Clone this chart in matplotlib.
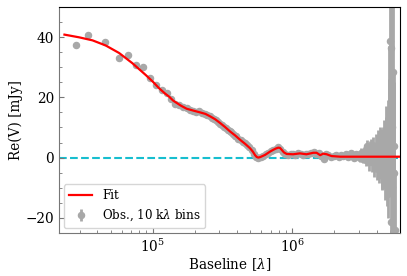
import matplotlib
matplotlib.use("Agg")
import matplotlib.pyplot as plt
from matplotlib.ticker import MultipleLocator

# ---- data ----
# Fit curve: baseline [lambda], Re(V) [mJy]
fit_b = [2.33e4, 2.97e4, 3.7e4, 4.6e4, 5.74e4, 7.15e4, 8.9e4, 1.0e5, 1.11e5, 1.22e5, 1.31e5,
         1.4e5, 1.58e5, 1.75e5, 1.95e5, 2.18e5, 2.38e5, 2.57e5, 2.8e5, 3.03e5, 3.3e5, 3.57e5,
         3.9e5, 4.22e5, 4.6e5, 4.97e5, 5.2e5, 5.4e5, 5.55e5, 5.7e5, 5.9e5, 6.37e5, 6.92e5,
         7.3e5, 7.6e5, 7.92e5, 8.15e5, 8.37e5, 8.7e5, 9.1e5, 1.01e6,
         1.13e6, 1.26e6, 1.41e6, 1.49e6, 1.58e6, 1.66e6, 1.76e6, 1.83e6, 1.91e6, 2.2e6,
         3.0e6, 4.0e6, 5.0e6, 6.0e6]
fit_v = [40.8, 39.9, 38.9, 37.2, 34.7, 31.3, 27.4, 25.2, 23.0, 21.3, 20.2,
         18.9, 17.3, 16.2, 15.6, 15.0, 14.5, 13.7, 12.7, 11.5, 10.1, 8.7,
         7.3, 5.9, 4.5, 3.1, 2.0, 0.8, 0.2, 0.0, 0.2, 0.9, 2.0,
         2.6, 3.0, 3.3, 3.2, 2.6, 1.7, 1.2, 1.1,
         1.4, 1.1, 1.6, 1.6, 0.8, 1.3, 1.1, 0.8, 0.5, 0.3,
         0.3, 0.3, 0.3, 0.3]

# Observations, 10 k-lambda bins: baseline, value, error
obs_b = [2.81e4, 3.46e4, 4.56e4, 5.74e4, 6.65e4, 7.6e4, 8.5e4, 9.6e4, 1.06e5, 1.16e5,
         1.26e5, 1.35e5, 1.45e5,
         1.55e5, 1.65e5, 1.75e5, 1.85e5, 1.95e5, 2.05e5, 2.15e5, 2.25e5, 2.35e5, 2.45e5,
         2.55e5, 2.65e5, 2.75e5, 2.85e5, 2.95e5, 3.05e5, 3.15e5, 3.25e5, 3.35e5, 3.45e5,
         3.55e5, 3.65e5, 3.75e5, 3.85e5, 3.95e5, 4.1e5, 4.25e5, 4.4e5, 4.55e5, 4.7e5,
         4.9e5, 5.1e5, 5.3e5, 5.5e5, 5.7e5, 5.95e5, 6.2e5, 6.45e5, 6.7e5, 7.0e5,
         7.3e5, 7.6e5, 7.9e5, 8.2e5, 8.55e5, 8.9e5, 9.3e5, 9.7e5, 1.01e6, 1.05e6,
         1.1e6, 1.15e6, 1.2e6, 1.25e6, 1.3e6, 1.36e6, 1.42e6, 1.48e6, 1.54e6, 1.6e6,
         1.67e6, 1.74e6, 1.81e6, 1.89e6, 1.97e6, 2.05e6, 2.14e6, 2.23e6, 2.32e6, 2.42e6,
         2.52e6, 2.63e6, 2.74e6, 2.85e6, 2.92e6,
         3.00e6, 3.05e6, 3.10e6, 3.15e6, 3.20e6, 3.25e6, 3.30e6, 3.35e6, 3.40e6, 3.45e6,
         3.50e6, 3.55e6, 3.60e6, 3.65e6, 3.70e6, 3.75e6, 3.80e6, 3.85e6, 3.90e6, 3.95e6,
         4.00e6, 4.05e6, 4.10e6, 4.15e6, 4.20e6, 4.25e6, 4.30e6, 4.35e6, 4.40e6, 4.45e6,
         4.50e6, 4.55e6, 4.60e6, 4.65e6, 4.70e6, 4.75e6, 4.80e6, 4.85e6, 4.90e6,
         4.95e6, 5.0e6, 5.05e6, 5.1e6, 5.15e6, 5.2e6, 5.25e6, 5.3e6, 5.35e6, 5.4e6]
obs_v = [37.2, 40.8, 38.5, 33.0, 34.1, 30.8, 29.9, 26.3, 24.1, 22.4,
         21.3, 19.4, 17.9,
         17.4, 16.9, 16.3, 15.7, 15.6, 15.1, 15.3, 14.8, 14.6, 14.1,
         13.9, 13.3, 12.9, 12.4, 11.9, 11.3, 10.9, 10.3, 9.9, 9.3,
         8.9, 8.4, 7.9, 7.3, 7.0, 6.3, 5.8, 5.2, 4.7, 4.1,
         3.4, 2.6, 1.2, 0.2, -0.1, 0.2, 0.6, 1.1, 1.6, 2.1,
         2.5, 2.9, 3.4, 2.9, 2.0, 1.3, 1.0, 1.2, 1.1, 1.0,
         1.5, 1.3, 1.0, 1.2, 1.1, 1.4, 1.8, 1.3, 1.6, 0.6,
         -0.3, 1.2, 0.9, 0.2, 0.6, 1.0, 0.1, 0.7, 0.4, 1.3,
         0.2, 1.4, 0.0, 1.1, 0.5,
         0.8, -0.2, 1.6, 0.3, -0.3, 1.8, 1.2, -0.8, 3.8, 0.9,
         0.4, -1.5, 1.9, 2.8, -1.0, 1.2, 2.6, -1.8, 0.2, 2.5,
         -2.0, 1.0, 3.2, -0.5, -1.5, 2.8, 2.0, -3.0, -2.5, 1.5,
         3.5, -1.0, -4.0, 2.5, 5.0, -3.0, -6.0, 3.0, 8.0,
         12.0, 38.7, -21.3, 36.5, -9.7, 10.3, 28.3, -5.0, 4.0, -24.0]
obs_e = [0.3, 0.3, 0.3, 0.3, 0.3, 0.3, 0.3, 0.3, 0.3, 0.3,
         0.3, 0.3, 0.3,
         0.3, 0.3, 0.3, 0.3, 0.3, 0.3, 0.3, 0.3, 0.3, 0.3,
         0.3, 0.3, 0.3, 0.3, 0.3, 0.3, 0.3, 0.3, 0.3, 0.3,
         0.3, 0.3, 0.3, 0.3, 0.3, 0.3, 0.3, 0.3, 0.3, 0.3,
         0.3, 0.3, 0.3, 0.3, 0.3, 0.3, 0.3, 0.3, 0.3, 0.3,
         0.3, 0.3, 0.3, 0.3, 0.3, 0.3, 0.4, 0.4, 0.4, 0.4,
         0.4, 0.4, 0.4, 0.4, 0.4, 0.5, 0.5, 0.5, 0.5, 0.5,
         0.5, 0.5, 0.6, 0.6, 0.6, 0.6, 0.7, 0.7, 0.7, 0.8,
         0.8, 0.9, 0.9, 1.0, 1.1,
         1.2, 1.3, 1.5, 1.5, 1.6, 1.8, 2.0, 2.1, 2.2, 2.5,
         2.8, 3.0, 3.5, 3.5, 3.8, 4.0, 4.2, 4.5, 5.0, 5.2,
         5.5, 5.8, 6.0, 6.5, 7.0, 7.2, 7.5, 7.8, 8.0, 8.5,
         9.0, 9.5, 10.0, 11.0, 12.0, 13.0, 14.0, 16.0, 18.0,
         25.0, 30.0, 28.0, 35.0, 40.0, 45.0, 40.0, 30.0, 25.0, 20.0]

# ---- style ----
plt.rcParams['font.family'] = ['DejaVu Serif']
plt.rcParams['mathtext.fontset'] = 'dejavuserif'

fig = plt.figure(figsize=(4.07, 2.76), dpi=100)
ax = fig.add_axes([0.145, 0.156, 0.838, 0.819])

ax.axhline(0, color='#17becf', lw=1.5, ls='--', zorder=1)
ax.errorbar(obs_b, obs_v, yerr=obs_e, fmt='o', color='#a8a8a8', ms=4.4,
            elinewidth=2.0, capsize=0, zorder=2, label=r'Obs., 10 k$\lambda$ bins')
ax.plot(fit_b, fit_v, color='red', lw=1.6, zorder=3, label='Fit')

ax.set_xscale('log')
ax.set_xlim(2.13e4, 5.9e6)
ax.set_ylim(-25, 50)
ax.yaxis.set_major_locator(MultipleLocator(20))
ax.yaxis.set_minor_locator(MultipleLocator(5))

ax.set_xlabel(r'Baseline [$\lambda$]', fontsize=9.8, labelpad=1)
ax.set_ylabel('Re(V) [mJy]', fontsize=9.8, labelpad=2)

for s in ['left', 'bottom']:
    ax.spines[s].set_color('#777777')
for s in ['top', 'right']:
    ax.spines[s].set_color('black')

ax.tick_params(which='both', direction='in', top=False, right=False,
               color='#777777', labelsize=9.8)
ax.tick_params(which='major', length=3.5)
ax.tick_params(which='minor', length=2)

leg = ax.legend(loc='lower left', fontsize=8.6, frameon=True, borderaxespad=0.4)
leg.get_frame().set_edgecolor('#cccccc')

fig.savefig('out.png', dpi=100)
